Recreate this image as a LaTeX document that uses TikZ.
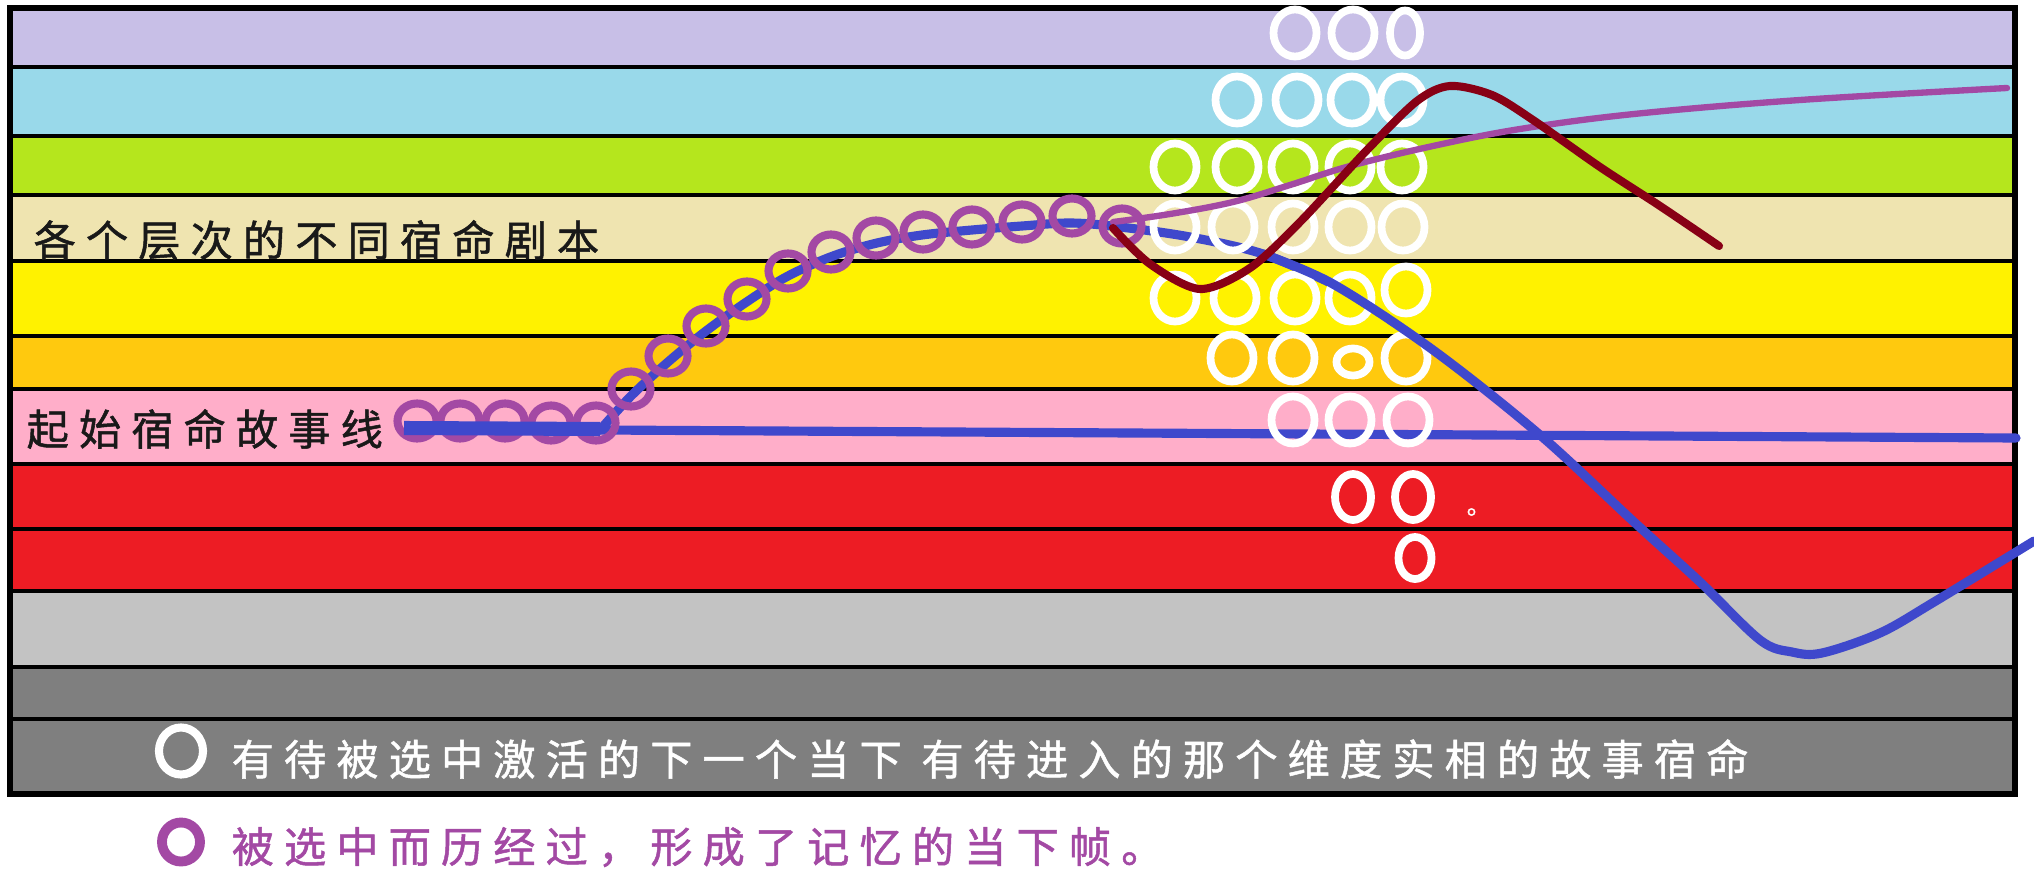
\documentclass[tikz,border=0pt]{standalone}
\usepackage{fontspec}
\usepackage{tikz}
\usetikzlibrary{shapes.geometric, positioning}
\newfontfamily\cjkfont[LetterSpace=24, FakeBold=1.2]{Noto Sans CJK SC}
\definecolor{lilac}{HTML}{C8BFE7}
\definecolor{skyband}{HTML}{99D9EA}
\definecolor{limeband}{HTML}{B5E61D}
\definecolor{sandband}{HTML}{EFE4B0}
\definecolor{lemon}{HTML}{FFF200}
\definecolor{amber}{HTML}{FFC90E}
\definecolor{rose}{HTML}{FFAEC9}
\definecolor{scarlet}{HTML}{ED1C24}
\definecolor{silverband}{HTML}{C3C3C3}
\definecolor{slateband}{HTML}{7F7F7F}
\definecolor{storyblue}{HTML}{3F48CC}
\definecolor{memory}{HTML}{A349A4}
\definecolor{wine}{HTML}{880015}

\begin{document}
\begin{tikzpicture}[x=0.01cm, y=-0.01cm,
    sepline/.style={line width=1.3pt},
    whitering/.style={ellipse, draw=white, line width=2.2pt, minimum width=0.43cm, minimum height=0.47cm, inner sep=0pt},
    memring/.style={ellipse, draw=memory, line width=2.3pt, minimum width=0.39cm, minimum height=0.35cm, inner sep=0pt},
    storycurve/.style={line width=2.6pt, line cap=round, line join=round},
    cjktext/.style={anchor=west, inner sep=0pt, font=\cjkfont\fontsize{12}{14}\selectfont}]
    \fill[white] (0,0) rectangle (2034,876);
    \useasboundingbox (0,0) rectangle (2034,876);
    % layers of destiny scripts
    \fill[lilac] (10,8) rectangle (2015,67);
    \fill[skyband] (10,67) rectangle (2015,136);
    \fill[limeband] (10,136) rectangle (2015,195);
    \fill[sandband] (10,195) rectangle (2015,261);
    \fill[lemon] (10,261) rectangle (2015,336);
    \fill[amber] (10,336) rectangle (2015,389);
    \fill[rose] (10,389) rectangle (2015,464);
    \fill[scarlet] (10,464) rectangle (2015,591);
    \fill[silverband] (10,591) rectangle (2015,667);
    \fill[slateband] (10,667) rectangle (2015,794);
    \foreach \y in {67,136,195,261,336,389,464,529,591,667,719}
        \draw[sepline] (10,\y) -- (2015,\y);
    \draw[line width=1.5pt] (10,8) rectangle (2015,794);

    % starting storyline and the rising path
    \draw[storyblue, storycurve] (600,430) -- (2016,438);
    \draw[storyblue, storycurve] plot[smooth, tension=0.55] coordinates {(600,430) (631,396) (668,362) (706,331) (748,301) (788,276) (833,256) (877,243) (922,235) (972,230) (1022,226) (1071,223) (1120,227) (1190,237) (1263,254) (1333,284)};

    % frames waiting to be chosen
    \foreach \x [count=\i] in {1295,1353} \node[whitering] (lilac\i) at (\x,33) {};
    \node[whitering, minimum width=0.3cm, minimum height=0.45cm] (lilac3) at (1405,33) {};
    \foreach \x [count=\i] in {1237,1297,1352,1402} \node[whitering] (sky\i) at (\x,100) {};
    \foreach \x [count=\i] in {1175,1237,1293,1350,1402} \node[whitering] (lime\i) at (\x,167) {};
    \foreach \x [count=\i] in {1175,1233,1293,1350,1403} \node[whitering] (sand\i) at (\x,227) {};
    \foreach \x [count=\i] in {1175,1235,1295,1350} \node[whitering] (lemon\i) at (\x,298) {};
    \node[whitering] (lemon5) at (1406,290) {};
    \foreach \x [count=\i] in {1232,1293,1406} \node[whitering] (amber\i) at (\x,358) {};
    \node[whitering, minimum width=0.33cm, minimum height=0.27cm] (amber4) at (1353,362) {};
    \foreach \x [count=\i] in {1293,1350,1408} \node[whitering] (rose\i) at (\x,420) {};
    \foreach \x [count=\i] in {1353,1413} \node[whitering, minimum width=0.36cm, minimum height=0.46cm] (red\i) at (\x,497) {};
    \node[whitering, minimum width=0.33cm, minimum height=0.42cm] (red3) at (1415,558) {};
    \node[cjktext, text=white, font=\cjkfont\fontsize{7}{8}\selectfont] (stop) at (1466,512) {。};

    \draw[storyblue, storycurve] plot[smooth, tension=0.55] coordinates {(1263,254) (1333,284) (1433,350) (1540,435) (1634,522) (1700,582) (1760,640) (1792,652) (1822,653) (1880,633) (1934,602) (2034,541)};

    % frames already lived
    \foreach \px/\py [count=\i] in {417/421, 460/421, 505/421, 551/423, 596/423, 631/389, 668/356, 706/326, 747/299, 788/271, 831/252, 876/238, 923/232, 972/227, 1022/222, 1072/216, 1122/226}
        \node[memring] (lived\i) at (\px,\py) {};
    \draw[storyblue, line width=4pt] (404,428) -- (600,429);

    % other scripts
    \draw[memory, storycurve, line width=1.8pt] plot[smooth, tension=0.6] coordinates {(1113,222) (1170,214) (1233,202) (1290,185) (1350,166) (1433,146) (1520,129) (1634,114) (1800,100) (2007,88)};
    \draw[wine, storycurve, line width=2.3pt] plot[smooth, tension=0.5] coordinates {(1113,228) (1150,264) (1200,289) (1250,268) (1300,222) (1367,150) (1417,101) (1450,86) (1492,95) (1533,120) (1600,167) (1660,206) (1719,246)};

    % labels
    \node[cjktext, text=black!90] (layers) at (33,240) {各个层次的不同宿命剧本};
    \node[cjktext, text=black!90] (origin) at (26,429) {起始宿命故事线};

    % legend
    \node[whitering, line width=2.3pt, minimum width=0.44cm, minimum height=0.47cm] (pendkey) at (181,751) {};
    \node[cjktext, text=white] (pending) at (231,759) {有待被选中激活的下一个当下 有待进入的那个维度实相的故事宿命};
    \node[memring, line width=2.8pt, minimum width=0.38cm, minimum height=0.39cm] (livedkey) at (181,842) {};
    \node[cjktext, text=memory] (lived) at (231,847) {被选中而历经过，形成了记忆的当下帧。};
\end{tikzpicture}
\end{document}
